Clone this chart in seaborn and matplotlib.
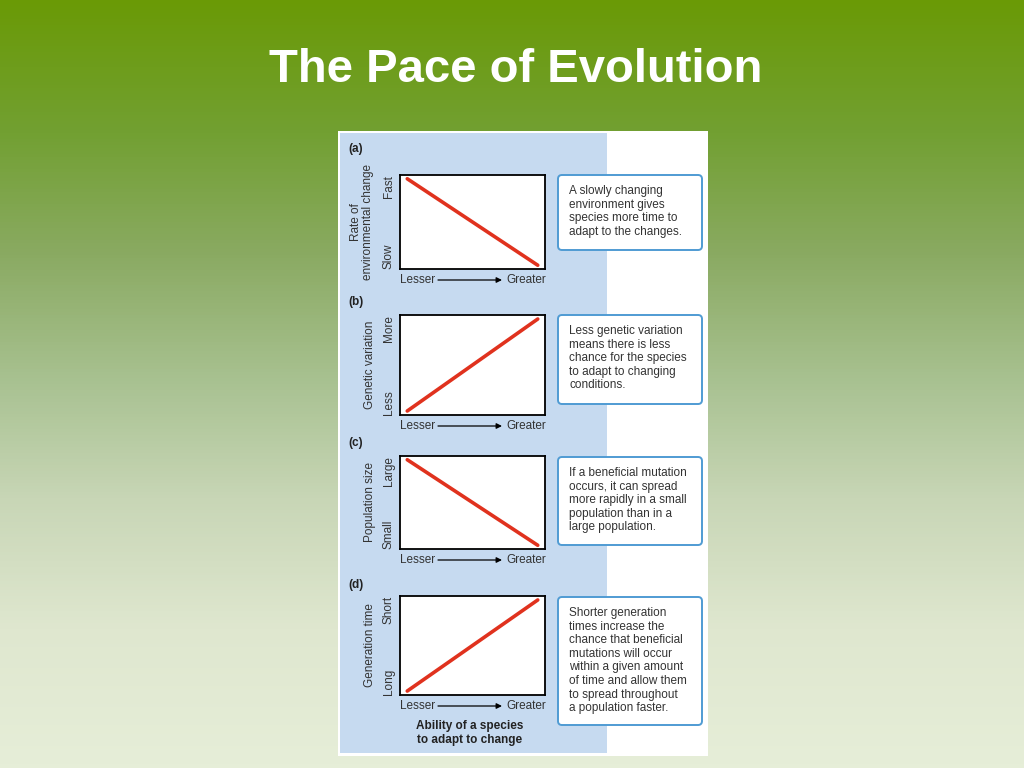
import numpy as np
import matplotlib.pyplot as plt
import matplotlib.patches as mpatches
from matplotlib.colors import LinearSegmentedColormap
import seaborn as sns

# %% data
panel_letters = ['(a)', '(b)', '(c)', '(d)']
y_titles = ['Rate of\nenvironmental change', 'Genetic variation', 'Population size', 'Generation time']
y_low = ['Slow', 'Less', 'Small', 'Long']
y_high = ['Fast', 'More', 'Large', 'Short']
x_ends = [0.05, 0.95]
line_start = [0.96, 0.04, 0.96, 0.04]
line_end = [0.04, 0.96, 0.04, 0.96]
captions = [
    'A slowly changing\nenvironment gives\nspecies more time to\nadapt to the changes.',
    'Less genetic variation\nmeans there is less\nchance for the species\nto adapt to changing\nconditions.',
    'If a beneficial mutation\noccurs, it can spread\nmore rapidly in a small\npopulation than in a\nlarge population.',
    'Shorter generation\ntimes increase the\nchance that beneficial\nmutations will occur\nwithin a given amount\nof time and allow them\nto spread throughout\na population faster.',
]

# %% layout (pixels)
W, H = 1024, 768
box_tops = [175, 315, 456, 596]
box_bottoms = [269, 415, 549, 695]
letter_y = [149, 302, 443, 585]
cap_boxes = [(558, 175, 702, 250), (558, 315, 702, 404), (558, 457, 702, 545), (558, 597, 702, 725)]
bx0, bx1 = 400, 545

sns.set_theme(style='white')
plt.rcParams['font.family'] = ['Liberation Sans', 'DejaVu Sans']

fig = plt.figure(figsize=(W / 100, H / 100), dpi=100)

# background gradient
bg = fig.add_axes([0, 0, 1, 1])
cmap = LinearSegmentedColormap.from_list('bg', [
    (0.0, '#6a9a06'), (0.17, '#72a032'), (0.33, '#8aaa62'),
    (0.5, '#a9c292'), (0.65, '#c8d6b6'), (0.82, '#dfe7cf'), (1.0, '#e6eed8')])
grad = np.linspace(0, 1, 256).reshape(-1, 1)
bg.imshow(grad, aspect='auto', cmap=cmap, extent=[0, W, H, 0])
bg.set_xlim(0, W)
bg.set_ylim(H, 0)
bg.axis('off')

bg.text(516, 70, 'The Pace of Evolution', color='white', fontsize=34,
        fontweight='bold', ha='center', va='center')

# figure panel
bg.add_patch(mpatches.Rectangle((338, 131), 370, 625, facecolor='white', edgecolor='none'))
bg.add_patch(mpatches.Rectangle((340, 133), 267, 620, facecolor='#c6daf0', edgecolor='none'))

small = 8.5
for i in range(4):
    top, bot = box_tops[i], box_bottoms[i]
    ax = fig.add_axes([bx0 / W, 1 - bot / H, (bx1 - bx0) / W, (bot - top) / H])
    sns.lineplot(x=x_ends, y=[line_start[i], line_end[i]], ax=ax, color='#e0321e', lw=2.6)
    ax.set_xlim(0, 1)
    ax.set_ylim(0, 1)
    ax.set_xticks([])
    ax.set_yticks([])
    ax.set_facecolor('white')
    for s in ax.spines.values():
        s.set_visible(True)
        s.set_color('black')
        s.set_linewidth(1.3)
    ax.text(-0.035, 1.0, y_high[i], rotation=90, ha='right', va='top',
            fontsize=small, color='#333333', transform=ax.transAxes)
    ax.text(-0.035, 0.0, y_low[i], rotation=90, ha='right', va='bottom',
            fontsize=small, color='#333333', transform=ax.transAxes)

    mid = (top + bot) / 2
    if '\n' in y_titles[i]:
        bg.text(362, mid, y_titles[i], rotation=90, ha='center', va='center',
                fontsize=small, color='#333333', linespacing=1.0, multialignment='center')
    else:
        bg.text(370, mid, y_titles[i], rotation=90, ha='center', va='center',
                fontsize=small, color='#333333')
    bg.text(348, letter_y[i], panel_letters[i], fontsize=small, fontweight='bold',
            ha='left', va='center', color='#222222')

    # x axis labels
    yx = bot + 11
    bg.text(bx0, yx, 'Lesser', fontsize=small, ha='left', va='center', color='#333333')
    bg.text(bx1 + 1, yx, 'Greater', fontsize=small, ha='right', va='center', color='#333333')
    bg.annotate('', xy=(502, yx), xytext=(438, yx),
                arrowprops=dict(arrowstyle='-|>', color='black', lw=0.9,
                                mutation_scale=8, shrinkA=0, shrinkB=0))

    # caption box
    cx0, cy0, cx1, cy1 = cap_boxes[i]
    bg.add_patch(mpatches.FancyBboxPatch((cx0 + 4, cy0 + 4), cx1 - cx0 - 8, cy1 - cy0 - 8,
                                         boxstyle='round,pad=4', facecolor='white',
                                         edgecolor='#4f9bd3', lw=1.4))
    bg.text(569, cy0 + 10, captions[i], fontsize=small, ha='left', va='top',
            color='#333333', linespacing=1.18)

bg.text(470, 733, 'Ability of a species\nto adapt to change', fontsize=small,
        fontweight='bold', ha='center', va='center', color='#222222', linespacing=1.15)

fig.savefig('out.png', dpi=100)
